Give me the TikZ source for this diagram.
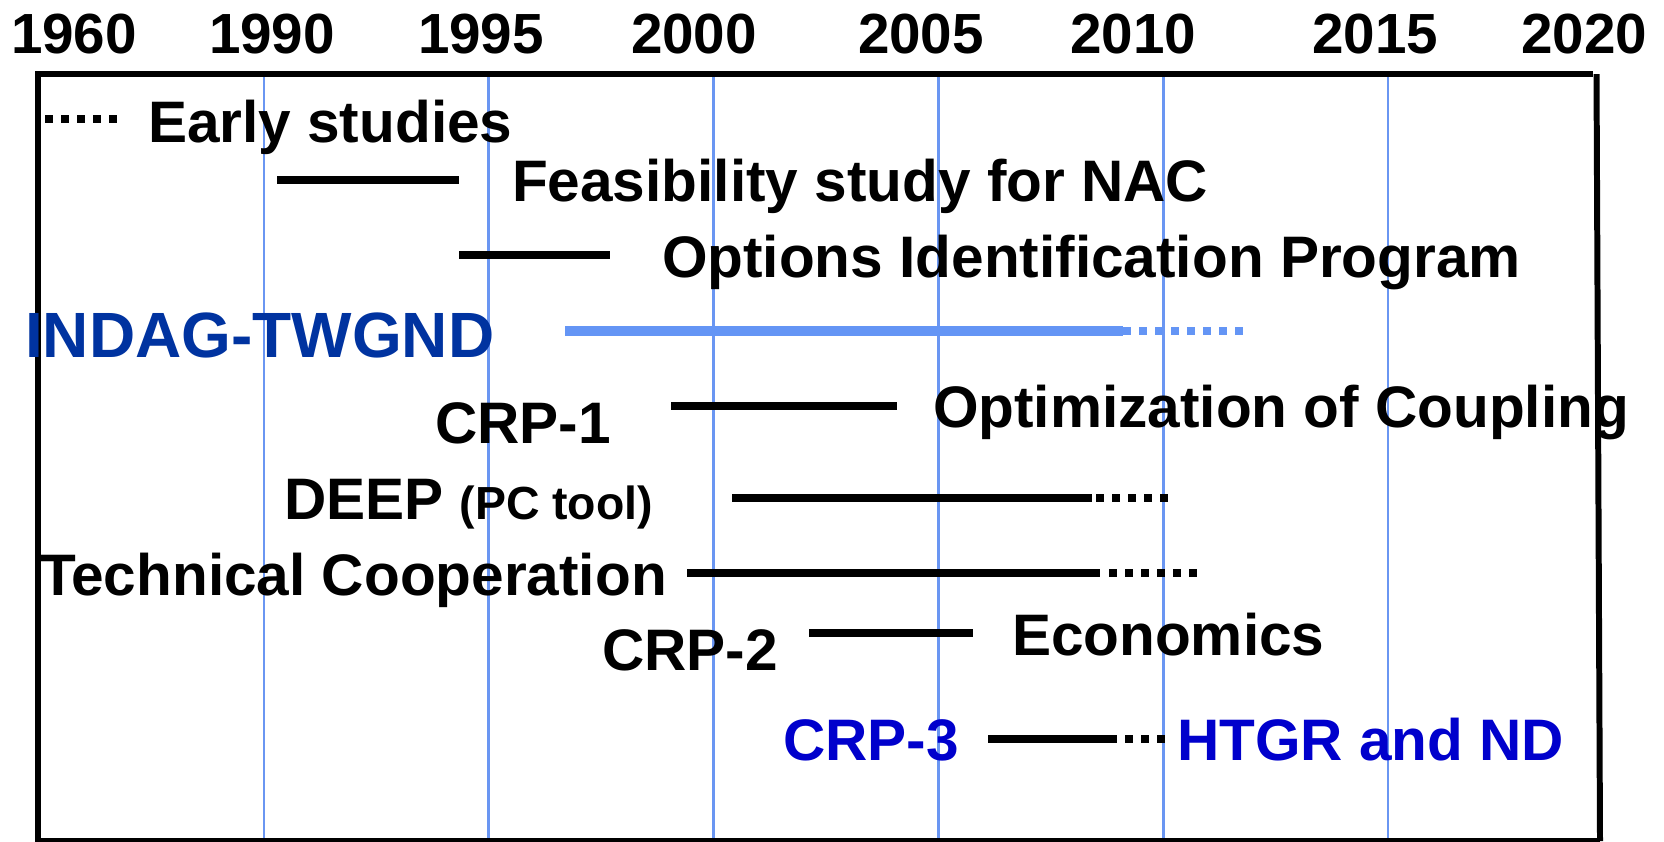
\documentclass[tikz,border=0pt]{standalone}
\usepackage{fontspec}
\setmainfont{Liberation Sans}
\usepackage{tikz}
\definecolor{gridblue}{HTML}{6A96F2}
\definecolor{barblue}{HTML}{6495F5}
\definecolor{indagblue}{HTML}{0033A0}
\definecolor{crpblue}{HTML}{0000CC}

\begin{document}
\begin{tikzpicture}[
    x=0.01cm, y=-0.01cm,
    every node/.style={inner sep=0pt, outer sep=0pt, font=\bfseries\fontsize{16.65}{18}\selectfont},
    lbl/.style={anchor=base west},
    yearlbl/.style={anchor=base, font=\bfseries\fontsize{16.1}{18}\selectfont},
    frame/.style={line width=1.7pt},
    gridline/.style={gridblue, line width=0.75pt},
    bar/.style={line width=2.3pt},
    dots/.style={line width=2.3pt, dash pattern=on 2.28pt off 2.28pt},
    wide/.style={barblue, line width=2.85pt}
]
    \useasboundingbox (0,0) rectangle (1664,841);

    % years along the top
    \foreach \yr/\xx in {1960/74, 1990/272, 1995/481, 2000/694, 2005/921, 2010/1133, 2015/1375, 2020/1584}
        \node[yearlbl] (y\yr) at (\xx,53) {\yr};

    % grid
    \foreach \yr in {1990,1995,...,2015}
        \draw[gridline] ({264+(\yr-1990)*44.96},76) -- ++(0,765);

    % frame
    \draw[frame] (38,73.5) -- (1593,73.5);
    \draw[frame] (38,71) -- (38,841) -- (1600,841);
    \draw[frame] (1596.5,74) -- (1600,841);

    % early studies
    \coordinate (early-a) at (45,119);
    \coordinate (early-b) at (120,119);
    \draw[dots] (early-a) -- (early-b);
    \node[lbl] (early) at (148,142) {Early studies};

    % feasibility study
    \coordinate (feas-a) at (277,180);
    \coordinate (feas-b) at (459,180);
    \draw[bar] (feas-a) -- (feas-b);
    \node[lbl] (feas) at (512,201) {Feasibility study for NAC};

    % options identification
    \coordinate (opts-a) at (459,255);
    \coordinate (opts-b) at (610,255);
    \draw[bar] (opts-a) -- (opts-b);
    \node[lbl] (opts) at (662,277) {Options Identification Program};

    % INDAG-TWGND
    \node[lbl, text=indagblue, font=\bfseries\fontsize{18.2}{20}\selectfont] (indag) at (25,357) {INDAG-TWGND};
    \coordinate (indag-a) at (565,331);
    \coordinate (indag-b) at (1123,331);
    \coordinate (indag-c) at (1247,331);
    \draw[wide] (indag-a) -- (indag-b);
    \draw[wide, line width=2.28pt, dash pattern=on 2.2pt off 2.35pt] (indag-b) -- (indag-c);

    % CRP-1
    \node[lbl] (crp1) at (435,443) {CRP-1};
    \coordinate (crp1-a) at (671,406);
    \coordinate (crp1-b) at (897,406);
    \draw[bar] (crp1-a) -- (crp1-b);
    \node[lbl] (optim) at (933,427) {Optimization of Coupling};

    % DEEP
    \node[lbl] (deep) at (284,519) {DEEP {\fontsize{13.2}{15}\selectfont (PC tool)}};
    \coordinate (deep-a) at (732,498);
    \coordinate (deep-b) at (1092,498);
    \coordinate (deep-c) at (1096,498);
    \coordinate (deep-d) at (1168,498);
    \draw[bar] (deep-a) -- (deep-b);
    \draw[dots] (deep-c) -- (deep-d);

    % technical cooperation
    \node[lbl] (tc) at (40,595) {Technical Cooperation};
    \coordinate (tc-a) at (687,573);
    \coordinate (tc-b) at (1100,573);
    \coordinate (tc-c) at (1109,573);
    \coordinate (tc-d) at (1200,573);
    \draw[bar] (tc-a) -- (tc-b);
    \draw[dots] (tc-c) -- (tc-d);

    % CRP-2
    \node[lbl] (crp2) at (602,670) {CRP-2};
    \coordinate (crp2-a) at (809,633);
    \coordinate (crp2-b) at (973,633);
    \draw[bar] (crp2-a) -- (crp2-b);
    \node[lbl] (econ) at (1012,655) {Economics};

    % CRP-3
    \node[lbl, text=crpblue] (crp3) at (783,760) {CRP-3};
    \coordinate (crp3-a) at (988,739);
    \coordinate (crp3-b) at (1117,739);
    \coordinate (crp3-c) at (1125,739);
    \coordinate (crp3-d) at (1167,739);
    \draw[bar] (crp3-a) -- (crp3-b);
    \draw[dots] (crp3-c) -- (crp3-d);
    \node[lbl, text=crpblue] (htgr) at (1177,760) {HTGR and ND};
\end{tikzpicture}
\end{document}
